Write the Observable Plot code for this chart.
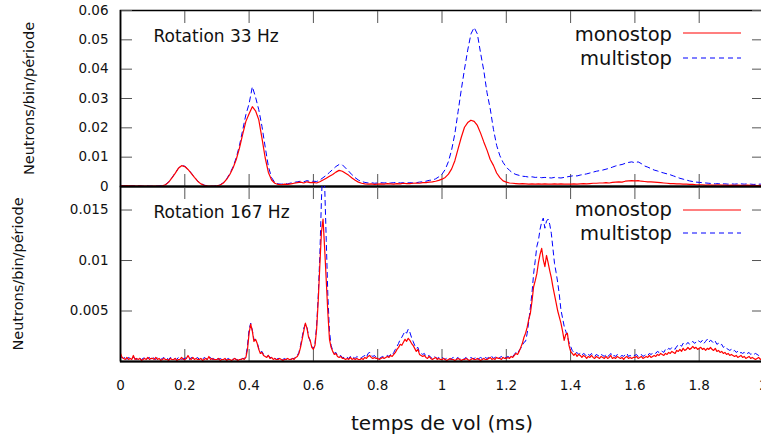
<!DOCTYPE html>
<html><head><meta charset="utf-8">
<script src="https://cdn.jsdelivr.net/npm/d3@7"></script>
<script src="https://cdn.jsdelivr.net/npm/@observablehq/plot@0.6"></script>
<style>
html,body{margin:0;padding:0;background:#fff;overflow:hidden;}
#root{position:relative;width:761px;height:437px;overflow:hidden;font-family:"DejaVu Sans",sans-serif;color:#111;background:#fff;}
#p1,#p2{position:absolute;left:0;}
#p1{top:0;}
#p2{top:176px;}
.legtxt{position:absolute;right:89px;font-size:19.5px;line-height:1;white-space:nowrap;text-align:right;}
.legline{position:absolute;left:683px;width:58px;height:4px;overflow:visible;}
</style></head>
<body><div id="root"><div id="p1"></div><div id="p2"></div></div>
<script>
// ---- data ----
const seriesNames = ["monostop", "multistop"];
const panelTitles = ["Rotation 33 Hz", "Rotation 167 Hz"];
const xLabel = "temps de vol (ms)";
const yLabel = "Neutrons/bin/période";
const xTicks = [0, 0.2, 0.4, 0.6, 0.8, 1, 1.2, 1.4, 1.6, 1.8, 2];
const yTicks33 = [0, 0.01, 0.02, 0.03, 0.04, 0.05, 0.06];
const yTicks167 = [0.005, 0.01, 0.015];
const step33 = 0.01;   // ms per bin (top panel)
const step167 = 0.005; // ms per bin (bottom panel)

const mono33 = [
0.0003,0.0002,0.0003,0.0002,0.0002,0.0001,0.0002,0.0001,0.0001,0.0001,
0.0001,0.0001,0.0001,0.0002,0.0006,0.0015,0.0029,0.0045,0.0062,0.0071,
0.0068,0.0058,0.0045,0.0031,0.0018,0.0009,0.0004,0.0002,0.0001,0.0001,
0.0002,0.0005,0.0012,0.0024,0.0041,0.0063,0.0092,0.0131,0.0178,0.0222,
0.0248,0.0272,0.0258,0.0228,0.0165,0.0098,0.0048,0.0022,0.0011,0.0007,
0.0006,0.0008,0.0007,0.0009,0.0011,0.0013,0.0015,0.0012,0.0016,0.0013,
0.0014,0.0012,0.0016,0.0022,0.0028,0.0035,0.0041,0.0049,0.0055,0.0052,
0.0045,0.0038,0.0029,0.0021,0.0015,0.0011,0.0009,0.0008,0.0009,0.0007,
0.0008,0.0009,0.0008,0.0010,0.0009,0.0008,0.0010,0.0009,0.0011,0.0010,
0.0010,0.0011,0.0012,0.0011,0.0013,0.0013,0.0015,0.0016,0.0018,0.0021,
0.0025,0.0031,0.0042,0.0060,0.0088,0.0128,0.0168,0.0202,0.0218,0.0226,
0.0222,0.0208,0.0182,0.0152,0.0124,0.0092,0.0072,0.0046,0.0030,0.0019,
0.0015,0.0012,0.0011,0.0010,0.0009,0.0010,0.0009,0.0008,0.0009,0.0008,
0.0009,0.0008,0.0009,0.0008,0.0008,0.0009,0.0008,0.0009,0.0008,0.0008,
0.0008,0.0009,0.0008,0.0009,0.0010,0.0009,0.0010,0.0011,0.0011,0.0012,
0.0012,0.0013,0.0012,0.0014,0.0015,0.0016,0.0015,0.0018,0.0019,0.0020,
0.0019,0.0020,0.0018,0.0017,0.0016,0.0016,0.0015,0.0014,0.0013,0.0012,
0.0011,0.0010,0.0010,0.0009,0.0009,0.0008,0.0008,0.0007,0.0007,0.0006,
0.0006,0.0006,0.0005,0.0006,0.0005,0.0005,0.0006,0.0005,0.0005,0.0004,
0.0005,0.0004,0.0005,0.0004,0.0004,0.0005,0.0004,0.0004,0.0003,0.0004,
0.0004];

const multi33 = [
0.0004,0.0003,0.0003,0.0002,0.0003,0.0002,0.0002,0.0001,0.0002,0.0001,
0.0001,0.0001,0.0002,0.0003,0.0007,0.0016,0.0030,0.0046,0.0062,0.0072,
0.0069,0.0059,0.0046,0.0032,0.0019,0.0010,0.0005,0.0002,0.0001,0.0001,
0.0003,0.0006,0.0013,0.0026,0.0044,0.0067,0.0098,0.0140,0.0192,0.0245,
0.0282,0.0340,0.0305,0.0262,0.0205,0.0135,0.0068,0.0030,0.0014,0.0009,
0.0008,0.0010,0.0009,0.0012,0.0014,0.0016,0.0018,0.0016,0.0020,0.0017,
0.0018,0.0017,0.0022,0.0030,0.0038,0.0048,0.0058,0.0068,0.0075,0.0074,
0.0063,0.0052,0.0040,0.0030,0.0022,0.0017,0.0014,0.0012,0.0013,0.0011,
0.0012,0.0013,0.0012,0.0013,0.0012,0.0013,0.0014,0.0012,0.0013,0.0012,
0.0013,0.0012,0.0013,0.0015,0.0016,0.0018,0.0021,0.0022,0.0026,0.0033,
0.0042,0.0058,0.0085,0.0125,0.0180,0.0255,0.0330,0.0400,0.0465,0.0520,
0.0542,0.0520,0.0455,0.0395,0.0320,0.0265,0.0195,0.0140,0.0105,0.0082,
0.0066,0.0055,0.0046,0.0041,0.0038,0.0035,0.0034,0.0032,0.0033,0.0031,
0.0032,0.0030,0.0031,0.0030,0.0029,0.0031,0.0030,0.0029,0.0031,0.0033,
0.0035,0.0037,0.0036,0.0039,0.0041,0.0043,0.0046,0.0049,0.0052,0.0054,
0.0056,0.0059,0.0062,0.0066,0.0070,0.0073,0.0075,0.0079,0.0082,0.0084,
0.0081,0.0084,0.0078,0.0070,0.0066,0.0061,0.0056,0.0053,0.0049,0.0046,
0.0043,0.0040,0.0036,0.0032,0.0028,0.0025,0.0022,0.0019,0.0017,0.0015,
0.0014,0.0013,0.0012,0.0011,0.0010,0.0009,0.0010,0.0009,0.0009,0.0008,
0.0009,0.0008,0.0009,0.0009,0.0008,0.0009,0.0008,0.0007,0.0008,0.0008,
0.0007];

const mono167 = [
0.0008,0.0004,0.0003,0.0002,0.0004,0.0002,0.0003,0.0002,0.0006,0.0002,
0.0003,0.0002,0.0003,0.0001,0.0002,0.0003,0.0002,0.0004,0.0002,0.0003,
0.0003,0.0002,0.0004,0.0002,0.0003,0.0001,0.0002,0.0003,0.0002,0.0002,
0.0001,0.0003,0.0002,0.0002,0.0003,0.0001,0.0002,0.0002,0.0004,0.0002,
0.0002,0.0003,0.0006,0.0003,0.0002,0.0004,0.0002,0.0003,0.0002,0.0002,
0.0003,0.0001,0.0002,0.0003,0.0002,0.0005,0.0002,0.0003,0.0002,0.0002,
0.0002,0.0003,0.0001,0.0002,0.0002,0.0003,0.0001,0.0002,0.0002,0.0001,
0.0002,0.0003,0.0002,0.0001,0.0002,0.0002,0.0003,0.0002,0.0004,0.0012,
0.0028,0.0037,0.0030,0.0020,0.0022,0.0018,0.0012,0.0008,0.0009,0.0006,
0.0005,0.0004,0.0006,0.0003,0.0004,0.0002,0.0003,0.0002,0.0002,0.0003,
0.0002,0.0001,0.0002,0.0002,0.0003,0.0002,0.0002,0.0003,0.0002,0.0004,
0.0005,0.0008,0.0014,0.0022,0.0030,0.0038,0.0033,0.0024,0.0021,0.0014,
0.0012,0.0016,0.0032,0.0060,0.0095,0.0128,0.0141,0.0112,0.0080,0.0048,
0.0022,0.0014,0.0010,0.0007,0.0008,0.0005,0.0004,0.0005,0.0003,0.0003,
0.0002,0.0003,0.0002,0.0004,0.0002,0.0003,0.0002,0.0003,0.0002,0.0002,
0.0003,0.0002,0.0004,0.0003,0.0005,0.0006,0.0004,0.0003,0.0004,0.0003,
0.0003,0.0002,0.0003,0.0004,0.0003,0.0004,0.0005,0.0004,0.0006,0.0005,
0.0007,0.0009,0.0012,0.0014,0.0017,0.0016,0.0019,0.0022,0.0020,0.0023,
0.0021,0.0018,0.0016,0.0013,0.0010,0.0012,0.0007,0.0006,0.0005,0.0006,
0.0004,0.0003,0.0005,0.0003,0.0002,0.0003,0.0004,0.0002,0.0003,0.0002,
0.0002,0.0003,0.0002,0.0001,0.0002,0.0003,0.0002,0.0002,0.0001,0.0002,
0.0003,0.0002,0.0001,0.0002,0.0002,0.0003,0.0002,0.0001,0.0002,0.0003,
0.0002,0.0002,0.0003,0.0002,0.0001,0.0002,0.0003,0.0002,0.0002,0.0003,
0.0004,0.0002,0.0003,0.0002,0.0004,0.0003,0.0003,0.0002,0.0004,0.0003,
0.0003,0.0004,0.0003,0.0005,0.0004,0.0006,0.0008,0.0007,0.0010,0.0014,
0.0018,0.0024,0.0028,0.0034,0.0042,0.0048,0.0060,0.0074,0.0080,0.0087,
0.0098,0.0106,0.0112,0.0101,0.0094,0.0105,0.0098,0.0090,0.0083,0.0074,
0.0066,0.0058,0.0050,0.0044,0.0038,0.0030,0.0021,0.0027,0.0028,0.0016,
0.0010,0.0008,0.0006,0.0008,0.0005,0.0007,0.0006,0.0004,0.0006,0.0005,
0.0003,0.0005,0.0004,0.0006,0.0004,0.0003,0.0005,0.0004,0.0003,0.0005,
0.0004,0.0003,0.0005,0.0003,0.0004,0.0006,0.0003,0.0004,0.0003,0.0005,
0.0004,0.0003,0.0004,0.0002,0.0004,0.0005,0.0003,0.0004,0.0003,0.0004,
0.0004,0.0005,0.0003,0.0004,0.0005,0.0003,0.0004,0.0005,0.0004,0.0006,
0.0004,0.0005,0.0006,0.0005,0.0007,0.0006,0.0008,0.0007,0.0006,0.0008,
0.0007,0.0009,0.0008,0.0010,0.0009,0.0008,0.0011,0.0010,0.0012,0.0010,
0.0013,0.0011,0.0012,0.0014,0.0012,0.0013,0.0015,0.0013,0.0014,0.0012,
0.0013,0.0014,0.0012,0.0013,0.0011,0.0013,0.0012,0.0014,0.0012,0.0011,
0.0013,0.0010,0.0011,0.0009,0.0010,0.0008,0.0009,0.0007,0.0008,0.0006,
0.0007,0.0006,0.0005,0.0006,0.0004,0.0005,0.0006,0.0004,0.0005,0.0003,
0.0004,0.0005,0.0003,0.0004,0.0003,0.0002,0.0003,0.0004,0.0002,0.0003,
0.0002];

const multi167 = [
0.0005,0.0004,0.0003,0.0005,0.0002,0.0004,0.0003,0.0002,0.0004,0.0003,
0.0002,0.0004,0.0003,0.0002,0.0003,0.0004,0.0002,0.0003,0.0004,0.0002,
0.0004,0.0003,0.0002,0.0004,0.0003,0.0002,0.0003,0.0004,0.0002,0.0003,
0.0002,0.0004,0.0003,0.0002,0.0003,0.0002,0.0004,0.0003,0.0002,0.0003,
0.0003,0.0004,0.0003,0.0002,0.0004,0.0003,0.0002,0.0003,0.0004,0.0002,
0.0003,0.0002,0.0004,0.0003,0.0002,0.0003,0.0004,0.0002,0.0003,0.0002,
0.0003,0.0002,0.0003,0.0002,0.0003,0.0002,0.0002,0.0003,0.0002,0.0003,
0.0002,0.0003,0.0002,0.0002,0.0003,0.0002,0.0003,0.0003,0.0005,0.0016,
0.0032,0.0038,0.0031,0.0022,0.0021,0.0019,0.0013,0.0009,0.0010,0.0007,
0.0006,0.0005,0.0006,0.0004,0.0004,0.0003,0.0003,0.0002,0.0003,0.0003,
0.0002,0.0002,0.0003,0.0002,0.0003,0.0003,0.0002,0.0003,0.0003,0.0005,
0.0006,0.0009,0.0016,0.0024,0.0033,0.0037,0.0034,0.0025,0.0020,0.0015,
0.0013,0.0018,0.0035,0.0065,0.0105,0.0160,0.0200,0.0175,0.0120,0.0065,
0.0030,0.0016,0.0011,0.0008,0.0009,0.0006,0.0005,0.0006,0.0004,0.0004,
0.0003,0.0004,0.0003,0.0005,0.0003,0.0004,0.0003,0.0005,0.0004,0.0003,
0.0004,0.0005,0.0006,0.0004,0.0008,0.0009,0.0006,0.0005,0.0006,0.0004,
0.0004,0.0003,0.0004,0.0005,0.0004,0.0005,0.0006,0.0005,0.0007,0.0006,
0.0009,0.0012,0.0015,0.0018,0.0022,0.0024,0.0027,0.0030,0.0028,0.0032,
0.0029,0.0024,0.0020,0.0016,0.0013,0.0014,0.0009,0.0008,0.0007,0.0008,
0.0005,0.0005,0.0006,0.0004,0.0003,0.0005,0.0004,0.0003,0.0004,0.0003,
0.0004,0.0003,0.0002,0.0004,0.0003,0.0002,0.0003,0.0004,0.0002,0.0003,
0.0004,0.0002,0.0003,0.0002,0.0003,0.0004,0.0002,0.0003,0.0004,0.0003,
0.0003,0.0004,0.0002,0.0003,0.0004,0.0003,0.0002,0.0004,0.0003,0.0004,
0.0003,0.0005,0.0003,0.0004,0.0005,0.0003,0.0004,0.0005,0.0003,0.0004,
0.0004,0.0005,0.0004,0.0006,0.0005,0.0007,0.0009,0.0008,0.0011,0.0013,
0.0016,0.0019,0.0020,0.0028,0.0040,0.0054,0.0068,0.0087,0.0100,0.0114,
0.0120,0.0131,0.0138,0.0142,0.0132,0.0139,0.0141,0.0136,0.0127,0.0112,
0.0097,0.0088,0.0078,0.0066,0.0051,0.0043,0.0035,0.0030,0.0025,0.0019,
0.0015,0.0011,0.0009,0.0008,0.0009,0.0007,0.0008,0.0006,0.0008,0.0007,
0.0005,0.0007,0.0006,0.0008,0.0006,0.0005,0.0007,0.0006,0.0005,0.0007,
0.0006,0.0005,0.0007,0.0005,0.0006,0.0008,0.0005,0.0006,0.0005,0.0007,
0.0006,0.0005,0.0006,0.0005,0.0007,0.0008,0.0005,0.0006,0.0005,0.0006,
0.0006,0.0007,0.0005,0.0006,0.0007,0.0005,0.0006,0.0007,0.0006,0.0008,
0.0007,0.0008,0.0009,0.0008,0.0010,0.0009,0.0011,0.0010,0.0009,0.0012,
0.0011,0.0013,0.0012,0.0014,0.0013,0.0012,0.0015,0.0016,0.0017,0.0015,
0.0018,0.0016,0.0017,0.0019,0.0017,0.0018,0.0020,0.0018,0.0019,0.0021,
0.0020,0.0019,0.0021,0.0018,0.0020,0.0022,0.0019,0.0021,0.0020,0.0018,
0.0020,0.0017,0.0018,0.0016,0.0017,0.0014,0.0015,0.0013,0.0012,0.0011,
0.0012,0.0010,0.0011,0.0009,0.0010,0.0008,0.0009,0.0008,0.0009,0.0007,
0.0008,0.0009,0.0007,0.0008,0.0007,0.0008,0.0007,0.0006,0.0008,0.0007,
0.0009];

// ---- build ----
const rows = (arr, step) => arr.map((v, i) => ({t: +(i * step).toFixed(4), v}));
const fmt = (d) => String(d);
const font = "DejaVu Sans";
const svgStyle = {background: "transparent", maxWidth: "none", overflow: "visible", fontFamily: font, color: "#111"};
const tickGray = "#555";
const RED = "#ff0000", BLUE = "#0000ff";

function panel({mono, multi, step, yDomain, yTicks, title, height, marginBottom, yLabelOffset, bottomAxis}) {
  const marks = [
    Plot.frame({stroke: "#000", strokeWidth: 1.5}),
    Plot.axisX(xTicks, {anchor: "bottom", tickSize: -12, tickFormat: () => "", label: null, stroke: tickGray}),
    Plot.axisX(xTicks, {anchor: "top", tickSize: -12, tickFormat: () => "", label: null, stroke: tickGray}),
    Plot.axisY(yTicks, {anchor: "left", tickSize: -12, tickFormat: () => "", label: null, stroke: tickGray}),
    Plot.axisY(yTicks, {anchor: "right", tickSize: -12, tickFormat: () => "", label: null, stroke: tickGray}),
    Plot.axisY(yTicks, {anchor: "left", tickSize: 0, tickPadding: 12, fontSize: 13.5, label: null, tickFormat: fmt}),
    Plot.axisY([], {anchor: "left", tickSize: 0, label: yLabel, labelAnchor: "center", labelArrow: "none", labelOffset: yLabelOffset, fontSize: 14.5}),
    Plot.line(rows(multi, step), {x: "t", y: "v", stroke: BLUE, strokeWidth: 1, strokeDasharray: "5,4", clip: true}),
    Plot.line(rows(mono, step), {x: "t", y: "v", stroke: RED, strokeWidth: 1.2, clip: true}),
    Plot.ruleY([yDomain[0]], {stroke: "#000", strokeWidth: 2}),
    Plot.ruleX([0], {stroke: "#000", strokeWidth: 1.5}),
    Plot.text([title], {frameAnchor: "top-left", dx: 33, dy: 19, lineAnchor: "top", textAnchor: "start", fontSize: 17, fill: "#111"})
  ];
  if (bottomAxis) {
    marks.push(Plot.axisX(xTicks, {anchor: "bottom", tickSize: 0, tickPadding: 19, fontSize: 13.5, label: null, tickFormat: fmt}));
    marks.push(Plot.axisX([], {anchor: "bottom", tickSize: 0, label: xLabel, labelAnchor: "center", labelArrow: "none", labelOffset: 68, fontSize: 20}));
  }
  return Plot.plot({
    width: 770, height, marginLeft: 120, marginRight: 7, marginTop: 10, marginBottom,
    x: {domain: [0, 2]}, y: {domain: yDomain},
    style: svgStyle,
    marks
  });
}

document.getElementById("p1").append(panel({
  mono: mono33, multi: multi33, step: step33, yDomain: [0, 0.06], yTicks: yTicks33,
  title: panelTitles[0], height: 190, marginBottom: 4, yLabelOffset: 97, bottomAxis: false
}));
document.getElementById("p2").append(panel({
  mono: mono167, multi: multi167, step: step167, yDomain: [0, 0.01733], yTicks: yTicks167,
  title: panelTitles[1], height: 261, marginBottom: 76, yLabelOffset: 108, bottomAxis: true
}));

// ---- legends (HTML) ----
const root = document.getElementById("root");
const legendRows = [
  {name: seriesNames[0], color: RED, dash: null, top: 25.2, lineY: 33.3},
  {name: seriesNames[1], color: BLUE, dash: "5,4", top: 48.5, lineY: 58.3},
  {name: seriesNames[0], color: RED, dash: null, top: 200.2, lineY: 210},
  {name: seriesNames[1], color: BLUE, dash: "5,4", top: 223.5, lineY: 233.3}
];
for (const r of legendRows) {
  const d = document.createElement("div");
  d.className = "legtxt";
  d.style.top = r.top + "px";
  d.textContent = r.name;
  root.append(d);
  const ns = "http://www.w3.org/2000/svg";
  const s = document.createElementNS(ns, "svg");
  s.setAttribute("class", "legline");
  s.style.top = (r.lineY - 2) + "px";
  const l = document.createElementNS(ns, "line");
  l.setAttribute("x1", 0); l.setAttribute("x2", 58);
  l.setAttribute("y1", 2); l.setAttribute("y2", 2);
  l.setAttribute("stroke", r.color);
  l.setAttribute("stroke-width", r.dash ? 1 : 1.2);
  if (r.dash) l.setAttribute("stroke-dasharray", r.dash);
  s.append(l);
  root.append(s);
}
</script>
</body></html>
